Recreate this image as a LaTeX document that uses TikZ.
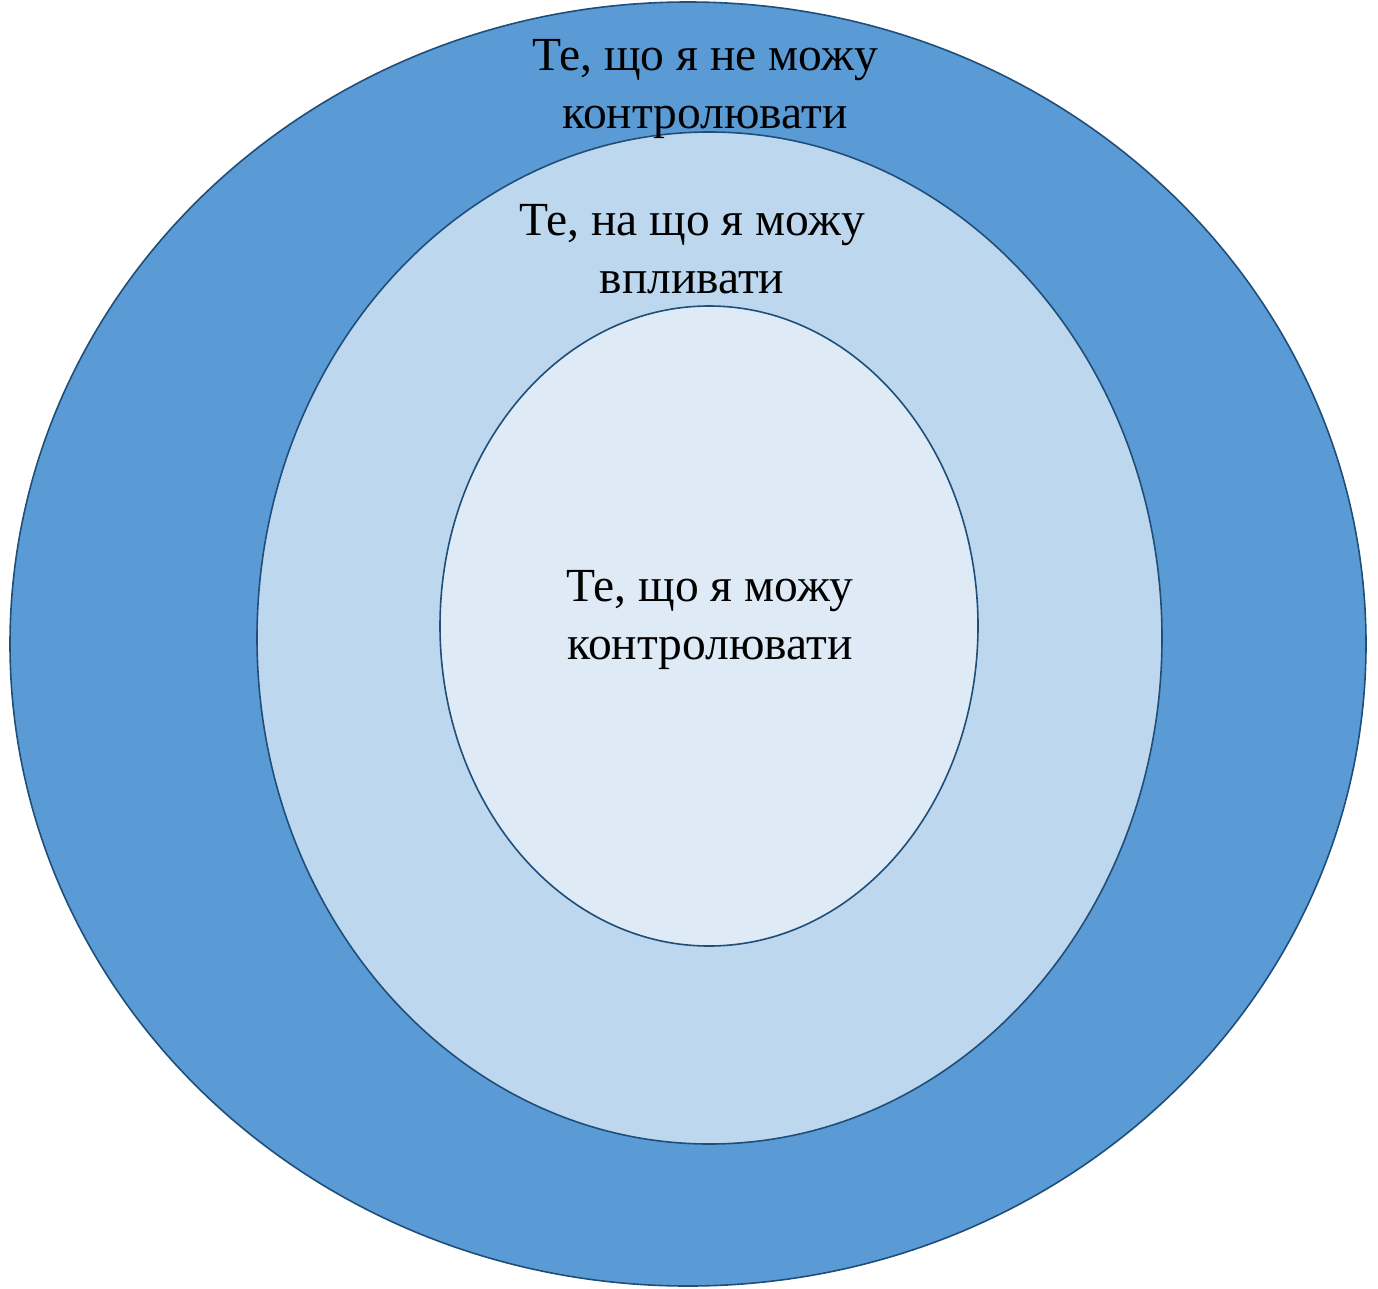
\documentclass[tikz,border=0pt]{standalone}
\usepackage{fontspec}
\setmainfont{Liberation Serif}
\definecolor{ringdark}{HTML}{5B9BD5}
\definecolor{ringmid}{HTML}{BDD7EE}
\definecolor{ringlight}{HTML}{DEEBF7}
\definecolor{ringline}{HTML}{1F4E79}
\tikzset{
  ring/.style={draw=ringline, line width=1.6pt},
  ringtext/.style={align=center, inner sep=0pt, font=\fontsize{47.5}{58}\selectfont}
}
\begin{document}
\begin{tikzpicture}[x=1pt, y=-1pt]
\useasboundingbox (0,0) rectangle (1378,1288);
% rings, outside in
\draw[ring, fill=ringdark] (688,644) ellipse [x radius=678, y radius=642];
\draw[ring, fill=ringmid] (709.5,638) ellipse [x radius=452.5, y radius=506];
\draw[ring, fill=ringlight] (709,626) ellipse [x radius=269, y radius=320];
% labels
\node[ringtext] (cannot) at (705,89) {Те, що я не можу\\контролювати};
\node[ringtext] (influence) at (692,249) {Те, на що я можу\\впливати};
\node[ringtext] (can) at (710,620) {Те, що я можу\\контролювати};
\end{tikzpicture}
\end{document}
